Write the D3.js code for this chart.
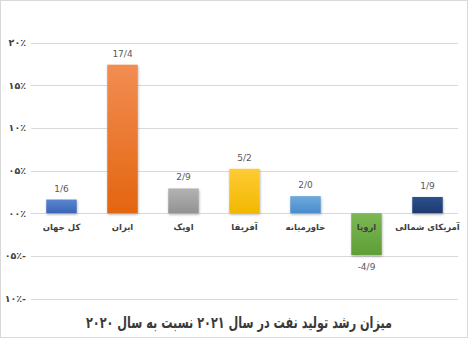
<!DOCTYPE html>
<html>
<head>
<meta charset="utf-8">
<script src="https://cdn.jsdelivr.net/npm/d3@7"></script>
<style>
  body { margin: 0; background: #fff; }
  svg { display: block; font-family: "DejaVu Sans", sans-serif; }
</style>
</head>
<body>
<svg id="chart" width="468" height="338"></svg>
<script>
// chart data
var categories = ["کل جهان", "ایران", "اوپک", "آفریقا", "خاورمیانه", "اروپا", "آمریکای شمالی"];
var values = [1.6, 17.4, 2.9, 5.2, 2.0, -4.9, 1.9];
var valueLabels = ["1/6", "17/4", "2/9", "5/2", "2/0", "-4/9", "1/9"];
var tickValues = [20, 15, 10, 5, 0, -5, -10];
var tickLabels = ["۲۰٪", "۱۵٪", "۱۰٪", "۰۵٪", "۰۰٪", "۰۵٪-", "۱۰٪-"];
var barColors = [
    ["#5b86d0", "#3a65b8"],
    ["#f28d52", "#e3650f"],
    ["#b3b3b3", "#929292"],
    ["#ffcb35", "#f2b800"],
    ["#6eaade", "#4a8bcb"],
    ["#7bb855", "#5f9e36"],
    ["#2e5090", "#1d3a6c"]
];
var title = "میزان رشد تولید نفت در سال ۲۰۲۱ نسبت به سال ۲۰۲۰";

var svg = d3.select("#chart");

// outer border
svg.append("rect")
    .attr("x", 0.5).attr("y", 0.5)
    .attr("width", 467).attr("height", 337)
    .attr("fill", "#fff")
    .attr("stroke", "#d9d9d9");

var margin = {left: 31, right: 10};
var x = d3.scaleBand()
    .domain(categories)
    .range([margin.left, 468 - margin.right])
    .paddingInner(0.5)
    .paddingOuter(0.25);

var y = d3.scaleLinear()
    .domain([-10, 20])
    .range([298.5, 42.5]);

var defs = svg.append("defs");
barColors.forEach(function(c, i) {
    var g = defs.append("linearGradient")
        .attr("id", "grad" + i)
        .attr("x1", 0).attr("y1", 0).attr("x2", 0).attr("y2", 1);
    g.append("stop").attr("offset", "0%").attr("stop-color", c[0]);
    g.append("stop").attr("offset", "100%").attr("stop-color", c[1]);
});
var shadow = defs.append("filter").attr("id", "shadow")
    .attr("x", "-20%").attr("y", "-20%").attr("width", "140%").attr("height", "140%");
shadow.append("feDropShadow")
    .attr("dx", 0.5).attr("dy", 1.5).attr("stdDeviation", 1)
    .attr("flood-color", "#000").attr("flood-opacity", 0.3);

// gridlines
svg.append("g")
    .selectAll("line")
    .data(tickValues)
    .join("line")
    .attr("x1", margin.left)
    .attr("x2", 458)
    .attr("y1", function(d) { return Math.round(y(d)) + 0.5; })
    .attr("y2", function(d) { return Math.round(y(d)) + 0.5; })
    .attr("stroke", "#d9d9d9")
    .attr("stroke-width", 1);

// y axis labels
svg.append("g")
    .selectAll("text")
    .data(tickValues)
    .join("text")
    .attr("x", 26)
    .attr("y", function(d) { return y(d) + 3.5; })
    .attr("text-anchor", "end")
    .attr("font-size", 9.5)
    .attr("font-weight", "bold")
    .attr("fill", "#404040")
    .text(function(d, i) { return tickLabels[i]; });

// bars
svg.append("g")
    .selectAll("rect")
    .data(values)
    .join("rect")
    .attr("x", function(d, i) { return x(categories[i]); })
    .attr("width", x.bandwidth())
    .attr("y", function(d) { return y(Math.max(0, d)); })
    .attr("height", function(d) { return Math.abs(y(d) - y(0)); })
    .attr("fill", function(d, i) { return "url(#grad" + i + ")"; })
    .attr("filter", "url(#shadow)");

// value labels
svg.append("g")
    .selectAll("text")
    .data(values)
    .join("text")
    .attr("x", function(d, i) { return x(categories[i]) + x.bandwidth() / 2; })
    .attr("y", function(d) { return d >= 0 ? y(d) - 8 : y(d) + 15; })
    .attr("text-anchor", "middle")
    .attr("font-size", 9)
    .attr("fill", "#595959")
    .text(function(d, i) { return valueLabels[i]; });

// category labels
svg.append("g")
    .selectAll("text")
    .data(categories)
    .join("text")
    .attr("x", function(d) { return x(d) + x.bandwidth() / 2; })
    .attr("y", y(0) + 17)
    .attr("text-anchor", "middle")
    .attr("font-size", 8.5)
    .attr("font-weight", "bold")
    .attr("fill", "#404040")
    .text(function(d) { return d; });

// title
svg.append("text")
    .attr("x", 239)
    .attr("y", 328)
    .attr("text-anchor", "middle")
    .attr("direction", "rtl")
    .attr("font-size", 16)
    .attr("font-weight", "bold")
    .attr("fill", "#3a3a3a")
    .attr("textLength", 306)
    .attr("lengthAdjust", "spacingAndGlyphs")
    .text(title);
</script>
</body>
</html>
